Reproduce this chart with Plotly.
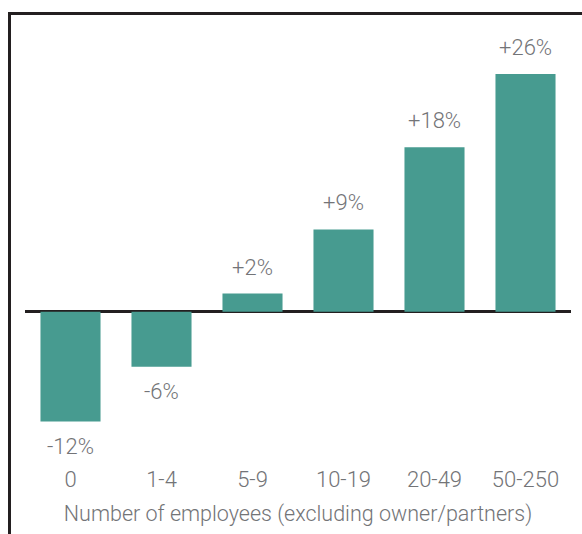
import plotly.graph_objects as go

# Change by firm size
categories = ["0", "1-4", "5-9", "10-19", "20-49", "50-250"]
values = [-12, -6, 2, 9, 18, 26]
labels = ["-12%", "-6%", "+2%", "+9%", "+18%", "+26%"]

BAR = "#479b90"
INK = "#231f20"
GREY = "#737477"
FONT = "Roboto"

W, H = 582, 534
ML, MR, MT, MB = 25, 11, 20, 74
Y_RANGE = [-16.2, 31.9]

fig = go.Figure(
    go.Bar(
        x=categories,
        y=values,
        marker=dict(color=BAR, line=dict(width=0)),
        hoverinfo="skip",
    )
)

# Value labels just beyond the end of each bar
for c, v, t in zip(categories, values, labels):
    fig.add_annotation(
        x=c, y=v, text=t, showarrow=False,
        yanchor="bottom" if v >= 0 else "top",
        yshift=12 if v >= 0 else -10,
        font=dict(family=FONT, size=22, color=GREY, weight=300),
    )

# Frame on the top and left edges
pw = W - ML - MR
ph = H - MT - MB
def px_x(p):
    return (p - ML) / pw
def px_y(p):
    return (H - MB - p) / ph

fig.add_shape(type="line", xref="paper", yref="paper",
              x0=px_x(8), x1=px_x(W + 2), y0=px_y(13.5), y1=px_y(13.5),
              line=dict(color=INK, width=3))
fig.add_shape(type="line", xref="paper", yref="paper",
              x0=px_x(9.5), x1=px_x(9.5), y0=px_y(12), y1=px_y(H + 2),
              line=dict(color=INK, width=3))

fig.update_layout(
    width=W, height=H,
    margin=dict(l=ML, r=MR, t=MT, b=MB),
    paper_bgcolor="white", plot_bgcolor="white",
    bargap=0.34,
    showlegend=False,
    font=dict(family=FONT, color=GREY, weight=300),
    xaxis=dict(
        showgrid=False, showline=False, ticks="",
        ticklabelstandoff=4,
        tickfont=dict(size=22, color=GREY, weight=300),
        title=dict(text="Number of employees (excluding owner/partners)",
                   font=dict(size=21.5, color=GREY, weight=300), standoff=14),
    ),
    yaxis=dict(
        range=Y_RANGE, showgrid=False, showticklabels=False, ticks="",
        zeroline=True, zerolinecolor=INK, zerolinewidth=3,
    ),
)

fig.write_html("out.html")
